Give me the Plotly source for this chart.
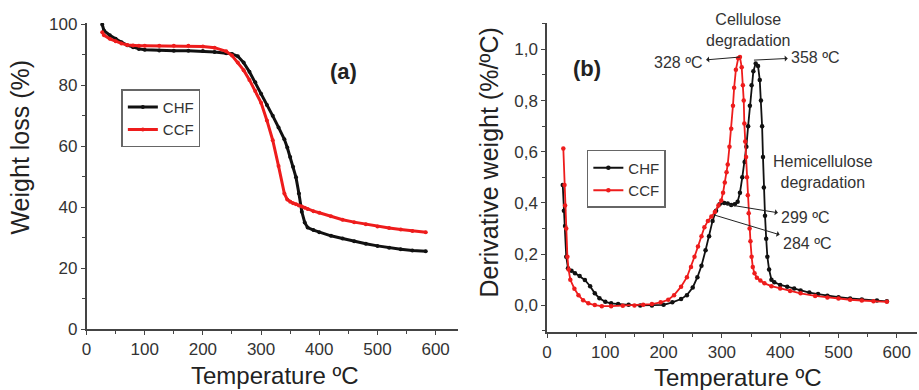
import plotly.graph_objects as go

# ---- Panel (a): TGA ----
tga_temp = [27, 30, 40, 50, 60, 70, 80, 90, 100, 125, 150, 175, 200, 220, 240, 250, 260, 270, 280,
            290, 300, 310, 320, 330, 340, 345, 350, 355, 360, 365, 370, 375, 380, 390, 400, 420,
            440, 460, 480, 500, 520, 540, 560, 583]
tga_chf = [100, 98, 96.5, 95.3, 94.2, 93.2, 92.5, 92, 91.7, 91.5, 91.4, 91.4, 91.3, 91, 90.6, 90.3,
           89.6, 87.5, 84.5, 81, 77.3, 73.6, 70, 66.2, 62.3, 59.6, 56.5, 53.3, 49.8, 44.5, 38.5,
           35, 33.3, 32.5, 31.8, 30.6, 29.7, 28.8, 28, 27.3, 26.7, 26.2, 25.8, 25.5]
tga_ccf = [97.5, 96.5, 95.3, 94.5, 93.8, 93.3, 93.1, 93, 93, 93, 93, 93, 92.8, 92.4, 91.2, 89.8,
           87.5, 85, 81.8, 78.2, 74.3, 68.5, 62, 53.5, 44.5, 42.5, 41.8, 41.3, 41.0, 40.6, 40.2,
           39.8, 39.4, 38.7, 38.2, 37, 35.9, 35.1, 34.4, 33.7, 33.2, 32.7, 32.2, 31.8]

# ---- Panel (b): DTG ----
dtg_chf_t = [27, 29, 31, 33, 36, 42, 48, 56, 65, 74, 82, 90, 100, 110, 122, 140, 160, 180, 200, 215,
             230, 240, 250, 258, 265, 272, 278, 284, 290, 296, 304, 310, 316, 322, 327, 331, 335,
             339, 342, 345, 348, 351, 354, 358, 362, 365, 367, 369, 370.5, 372, 374, 376, 378, 381,
             385, 390, 400, 412, 424, 435, 450, 465, 481, 500, 520, 540, 566, 583]
dtg_chf = [0.47, 0.37, 0.31, 0.19, 0.145, 0.135, 0.125, 0.115, 0.099, 0.075, 0.047, 0.028, 0.014,
           0.008, 0.005, 0.002, 0.0, 0.0, 0.002, 0.012, 0.025, 0.04, 0.07, 0.11, 0.155, 0.215, 0.27,
           0.33, 0.37, 0.395, 0.4, 0.398, 0.392, 0.395, 0.405, 0.44, 0.5, 0.56, 0.62, 0.7, 0.78,
           0.86, 0.915, 0.945, 0.935, 0.88, 0.8, 0.7, 0.58, 0.46, 0.35, 0.26, 0.19, 0.14, 0.1, 0.09,
           0.08, 0.073, 0.066, 0.058, 0.05, 0.044, 0.038, 0.032, 0.027, 0.023, 0.019, 0.016]
dtg_ccf_t = [28, 30, 31, 33, 35, 37, 40, 47, 54, 62, 71, 82, 94, 110, 130, 150, 165, 180, 195, 208,
             218, 230, 240, 247, 253, 259, 265, 270, 276, 282, 288, 294, 299, 302, 305, 308, 310,
             313, 316, 319, 321, 324, 328, 331, 334, 336, 337.5, 338.5, 340, 341.5, 343, 344.5,
             346, 347.5, 349, 351, 353, 356, 360, 366, 373, 385, 400, 417, 435, 460, 481, 500, 520,
             540, 560, 583]
dtg_ccf = [0.613, 0.47, 0.39, 0.30, 0.19, 0.14, 0.10, 0.065, 0.04, 0.02, 0.008, 0.001, -0.003,
           -0.003, -0.001, 0.0, 0.002, 0.005, 0.012, 0.022, 0.04, 0.073, 0.11, 0.15, 0.19, 0.23,
           0.27, 0.305, 0.33, 0.347, 0.365, 0.39, 0.41, 0.44, 0.48, 0.52, 0.55, 0.62, 0.69, 0.78,
           0.85, 0.92, 0.965, 0.97, 0.93, 0.86, 0.8, 0.71, 0.64, 0.58, 0.5, 0.43, 0.36, 0.3, 0.25,
           0.19, 0.15, 0.125, 0.108, 0.097, 0.086, 0.075, 0.066, 0.056, 0.047, 0.037, 0.031, 0.027,
           0.022, 0.019, 0.016, 0.014]

series_names = ["CHF", "CCF"]
colors = ["#111111", "#ee1c1c"]
FONT = "Liberation Sans, Arial, sans-serif"

fig = go.Figure()
for name, col, ys in zip(series_names, colors, [tga_chf, tga_ccf]):
    fig.add_trace(go.Scatter(x=tga_temp, y=ys, name=name, mode="lines+markers",
                             line=dict(color=col, width=3), marker=dict(color=col, size=4),
                             xaxis="x", yaxis="y", legend="legend"))
for name, col, xs, ys in zip(series_names, colors, [dtg_chf_t, dtg_ccf_t], [dtg_chf, dtg_ccf]):
    fig.add_trace(go.Scatter(x=xs, y=ys, name=name, mode="lines+markers",
                             line=dict(color=col, width=1.8), marker=dict(color=col, size=4.5),
                             xaxis="x2", yaxis="y2", legend="legend2"))

axis_common = dict(showline=True, linecolor="#444", linewidth=1.5, ticks="outside", ticklen=4,
                   tickwidth=1.2, tickcolor="#444", showgrid=False, zeroline=False,
                   tickfont=dict(family=FONT, size=17, color="#333"), mirror=False)

fig.update_layout(
    width=919, height=390, margin=dict(l=0, r=0, t=23, b=58),
    paper_bgcolor="white", plot_bgcolor="white", separators=",.",
    font=dict(family=FONT, color="#222"),
    xaxis=dict(domain=[0.0892, 0.496], range=[0, 639], dtick=100, tick0=0,
               minor=dict(ticks="outside", ticklen=3, dtick=50, tickcolor="#444"),
               anchor="y", **axis_common),
    yaxis=dict(domain=[0.0097, 1.0], range=[0, 100.5], dtick=20, tick0=0,
               minor=dict(ticks="outside", ticklen=3, dtick=10, tickcolor="#444"),
               anchor="x", **axis_common),
    xaxis2=dict(domain=[0.593, 0.998], range=[0, 635], dtick=100, tick0=0,
                minor=dict(ticks="outside", ticklen=3, dtick=50, tickcolor="#444"),
                anchor="y2", **axis_common),
    yaxis2=dict(domain=[0.0, 1.0], range=[-0.104, 1.103], dtick=0.2, tick0=0, tickformat=".1f",
                minor=dict(ticks="outside", ticklen=3, dtick=0.1, tickcolor="#444"),
                anchor="x2", **axis_common),
    legend=dict(x=0.1273, y=0.786, xanchor="left", yanchor="top", bgcolor="white",
                bordercolor="#666", borderwidth=1.5, font=dict(family=FONT, size=15, color="#333"),
                tracegroupgap=0),
    legend2=dict(x=0.6366, y=0.589, xanchor="left", yanchor="top", bgcolor="white",
                 bordercolor="#666", borderwidth=1.5, font=dict(family=FONT, size=15, color="#333"),
                 tracegroupgap=0),
    showlegend=True,
)

title_font = dict(family=FONT, size=24, color="#222")
ann_font = dict(family=FONT, size=16, color="#333")
annotations = [
    dict(text="Weight loss (%)", xref="paper", yref="paper", x=0.016, y=0.599, textangle=-90,
         xanchor="center", yanchor="middle", showarrow=False,
         font=dict(family=FONT, size=25, color="#222")),
    dict(text="Derivative weight (%/ºC)", xref="paper", yref="paper", x=0.530, y=0.55,
         textangle=-90, xanchor="center", yanchor="middle", showarrow=False,
         font=dict(family=FONT, size=25, color="#222")),
    dict(text="Temperature ºC", xref="paper", yref="paper", x=271 / 919, y=-0.142,
         xanchor="center", yanchor="middle", showarrow=False, font=title_font),
    dict(text="Temperature ºC", xref="paper", yref="paper", x=737 / 919, y=-0.146,
         xanchor="center", yanchor="middle", showarrow=False, font=title_font),
    dict(text="<b>(a)</b>", xref="x", yref="y", x=441, y=84.6, showarrow=False,
         font=dict(family=FONT, size=22, color="#222")),
    dict(text="<b>(b)</b>", xref="x2", yref="y2", x=68, y=0.925, showarrow=False,
         font=dict(family=FONT, size=22, color="#222")),
    dict(text="Cellulose<br>degradation", xref="x2", yref="y2", x=346, y=1.074, showarrow=False,
         font=ann_font),
    dict(text="Hemicellulose<br>degradation", xref="x2", yref="y2", x=474, y=0.52, showarrow=False,
         font=ann_font),
]
arrow_specs = [
    ("328 ºC", 331, 0.97, 225, 0.95),
    ("358 ºC", 355, 0.958, 461, 0.97),
    ("299 ºC", 304, 0.396, 444, 0.344),
    ("284 ºC", 287, 0.353, 447, 0.243),
]
for txt, px, py, tx, ty in arrow_specs:
    annotations.append(dict(text=txt, xref="x2", yref="y2", x=px, y=py, axref="x2", ayref="y2",
                            ax=tx, ay=ty, showarrow=True, arrowside="start", arrowhead=2,
                            arrowsize=1, arrowwidth=1, arrowcolor="#222", startstandoff=2,
                            font=ann_font))
fig.update_layout(annotations=annotations)

fig.write_html("out.html")
